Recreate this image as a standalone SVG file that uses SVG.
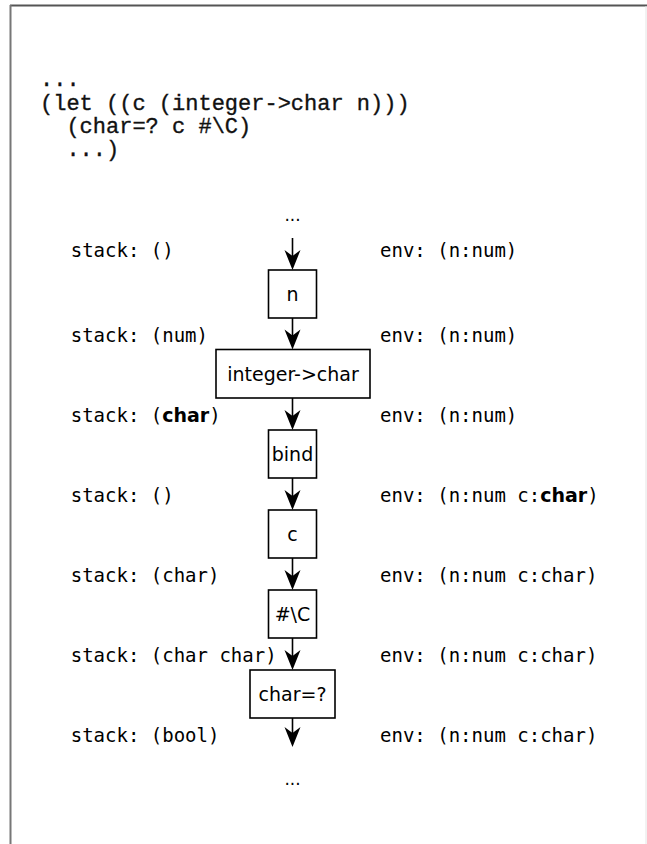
<svg xmlns="http://www.w3.org/2000/svg" width="647" height="844" viewBox="0 0 647 844">
<style>
.code{font-family:"Liberation Mono","Courier New",monospace;font-size:22px;fill:#111;stroke:#111;stroke-width:0.35}
.lbl{font-family:"DejaVu Sans Mono",monospace;font-size:19px;fill:#000}
.b{font-family:"DejaVu Sans",sans-serif;font-weight:bold}
.node rect{fill:#fff;stroke:#000;stroke-width:1.6}
.node text{font-family:"DejaVu Sans",sans-serif;font-size:19px;fill:#000;text-anchor:middle}
.dots{font-family:"DejaVu Sans",sans-serif;font-size:17px;fill:#000;text-anchor:middle}
.conn line{stroke:#000;stroke-width:1.6;marker-end:url(#ah)}
</style>
<defs>
<marker id="ah" markerUnits="userSpaceOnUse" markerWidth="24" markerHeight="20" viewBox="-22 -10 24 20" refX="-8" refY="0" orient="auto">
<path d="M0,0 L-20,-8 L-14,0 L-20,8 Z" fill="#000"/>
</marker>
</defs>
<rect x="0" y="0" width="647" height="844" fill="#fff"/>
<g id="frame">
<line x1="10" y1="5.5" x2="647" y2="5.5" stroke="#555" stroke-width="2"/>
<line x1="10.5" y1="5" x2="10.5" y2="844" stroke="#777" stroke-width="2"/>
<line x1="646" y1="6" x2="646" y2="844" stroke="#e4e4e4" stroke-width="1"/>
</g>
<g id="code">
<text class="code" x="40" y="86" xml:space="preserve">...</text>
<text class="code" x="40" y="110" xml:space="preserve">(let ((c (integer-&gt;char n)))</text>
<text class="code" x="40" y="133" xml:space="preserve">  (char=? c #\C)</text>
<text class="code" x="40" y="156" xml:space="preserve">  ...)</text>
</g>
<g id="stack-labels">
<text class="lbl" x="70.7" y="257" xml:space="preserve">stack: ()</text>
<text class="lbl" x="70.7" y="342" xml:space="preserve">stack: (num)</text>
<text class="lbl" x="70.7" y="422" xml:space="preserve">stack: (<tspan class="b">char</tspan>)</text>
<text class="lbl" x="70.7" y="502" xml:space="preserve">stack: ()</text>
<text class="lbl" x="70.7" y="582" xml:space="preserve">stack: (char)</text>
<text class="lbl" x="70.7" y="662" xml:space="preserve">stack: (char char)</text>
<text class="lbl" x="70.7" y="742" xml:space="preserve">stack: (bool)</text>
</g>
<g id="env-labels">
<text class="lbl" x="380" y="257" xml:space="preserve">env: (n:num)</text>
<text class="lbl" x="380" y="342" xml:space="preserve">env: (n:num)</text>
<text class="lbl" x="380" y="422" xml:space="preserve">env: (n:num)</text>
<text class="lbl" x="380" y="502" xml:space="preserve">env: (n:num c:<tspan class="b">char</tspan>)</text>
<text class="lbl" x="380" y="582" xml:space="preserve">env: (n:num c:char)</text>
<text class="lbl" x="380" y="662" xml:space="preserve">env: (n:num c:char)</text>
<text class="lbl" x="380" y="742" xml:space="preserve">env: (n:num c:char)</text>
</g>
<g id="start"><text class="dots" x="292.5" y="221">...</text></g>
<g id="node-n" class="node"><rect x="268.5" y="270" width="48" height="48"/><text x="292.5" y="300.5">n</text></g>
<g id="node-integer-char" class="node"><rect x="216" y="349.5" width="154" height="48.5"/><text x="293" y="381">integer-&gt;char</text></g>
<g id="node-bind" class="node"><rect x="268.5" y="430" width="48" height="48"/><text x="292.5" y="461">bind</text></g>
<g id="node-c" class="node"><rect x="268.5" y="510" width="48" height="48"/><text x="292.5" y="540.5">c</text></g>
<g id="node-hashC" class="node"><rect x="268.5" y="590" width="48" height="48"/><text x="292.5" y="621">#\C</text></g>
<g id="node-chareq" class="node"><rect x="250" y="670" width="85" height="48"/><text x="292.5" y="701">char=?</text></g>
<g id="end"><text class="dots" x="292.5" y="785">...</text></g>
<g id="connectors" class="conn">
<line x1="292.5" y1="238" x2="292.5" y2="262"/>
<line x1="292.5" y1="318" x2="292.5" y2="341.5"/>
<line x1="292.5" y1="398" x2="292.5" y2="422"/>
<line x1="292.5" y1="478" x2="292.5" y2="502"/>
<line x1="292.5" y1="558" x2="292.5" y2="582"/>
<line x1="292.5" y1="638" x2="292.5" y2="662"/>
<line x1="292.5" y1="718" x2="292.5" y2="739"/>
</g>
</svg>
